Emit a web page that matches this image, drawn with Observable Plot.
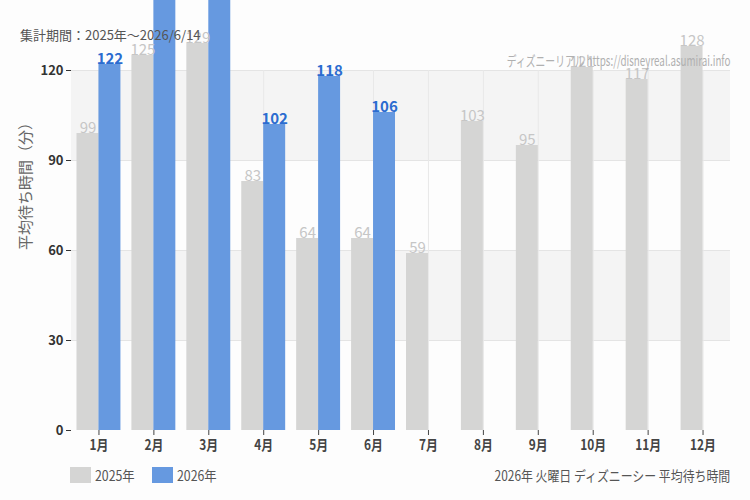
<!DOCTYPE html>
<html><head><meta charset="utf-8">
<script src="https://cdn.jsdelivr.net/npm/d3@7"></script>
<script src="https://cdn.jsdelivr.net/npm/@observablehq/plot@0.6"></script>
<style>
body{margin:0;background:#fdfdfd;}
#wrap{position:relative;width:750px;height:500px;font-family:"Noto Sans CJK JP","Noto Sans",sans-serif;overflow:hidden;}
#wrap svg{position:absolute;left:0;top:0;background:transparent;}
.ov{position:absolute;white-space:nowrap;line-height:16px;}
.sw{position:absolute;width:21px;height:16px;}
</style></head><body><div id="wrap"></div>
<script>
const months = ["1月","2月","3月","4月","5月","6月","7月","8月","9月","10月","11月","12月"];
const values2025 = [99,125,129,83,64,64,59,103,95,121,117,128];
const values2026 = [122,150,155,102,118,106];
const years = ["2025年","2026年"];
const yTicks = [0,30,60,90,120];
const bandRanges = [[30,60],[90,120]];
const colors = ["#d5d5d4","#6699e0"];
const labelColors = ["#c6c6c6","#2b6cd0"];
const titleText = "集計期間：2025年～2026/6/14";
const watermark = "ディズニーリアル https://disneyreal.asumirai.info";
const footerText = "2026年 火曜日 ディズニーシー 平均待ち時間";
const yLabel = "平均待ち時間（分）";

const W = 750, H = 500, mL = 71, mR = 20, mT = 70, mB = 70;
const pIn = 0.2, pOut = 0.1;
const step = (W - mL - mR) / (months.length - pIn + 2 * pOut);
const half = step * (1 - pIn) / 2;

const d2025 = months.map((m, i) => ({month: m, value: values2025[i]}));
const d2026 = values2026.map((v, i) => ({month: months[i], value: v}));

const chart = Plot.plot({
  width: W, height: H,
  marginLeft: mL, marginRight: mR, marginTop: mT, marginBottom: mB,
  style: {fontFamily: "Noto Sans CJK JP, Noto Sans, sans-serif", background: "transparent", overflow: "hidden"},
  x: {domain: months, paddingInner: pIn, paddingOuter: pOut, round: false, line: true, label: null},
  y: {domain: [0, 120], line: true, label: null},
  marks: [
    Plot.rectY(bandRanges, {y1: d => d[0], y2: d => d[1], fill: "#f4f4f4"}),
    Plot.gridY({ticks: yTicks.slice(1), stroke: "#e4e4e4", strokeOpacity: 1}),
    Plot.gridX({stroke: "#e8e8e8", strokeOpacity: 1}),
    Plot.barY(d2025, {x: "month", y: "value", fill: colors[0], insetRight: half}),
    Plot.barY(d2026, {x: "month", y: "value", fill: colors[1], insetLeft: half}),
    Plot.text(d2025, {ariaLabel: "vlabel", x: "month", y: "value", text: d => String(d.value), dx: -half / 2, dy: -1, lineAnchor: "bottom", fill: labelColors[0], fontSize: 15}),
    Plot.text(d2026, {ariaLabel: "vlabel", x: "month", y: "value", text: d => String(d.value), dx: half / 2, dy: -1, lineAnchor: "bottom", fill: labelColors[1], fontSize: 15, fontWeight: "bold"}),
    Plot.axisY({ticks: yTicks, tickSize: 5, tickPadding: 3, label: null, fontSize: 13, color: "#333", fontWeight: "bold"}),
    Plot.axisX({tickSize: 5, tickPadding: 5, label: null, fontSize: 14, color: "#444", fontWeight: "bold"}),
    Plot.text([yLabel], {frameAnchor: "left", rotate: -90, dx: -45, dy: -68, textAnchor: "middle", lineAnchor: "middle", fontSize: 15, fill: "#666"})
  ]
});
const wrap = document.getElementById("wrap");
wrap.appendChild(chart);

// condense the value labels and month labels (narrow font look)
function condense(sel, k) {
  chart.querySelectorAll(sel).forEach(t => {
    const tr = t.getAttribute("transform") || "";
    t.setAttribute("transform", tr + ` scale(${k},1)`);
  });
}
condense('g[aria-label="vlabel"] text', 0.68);
condense('g[aria-label="x-axis tick label"] text', 0.85);

function ov(html, css, k, origin) {
  const d = document.createElement("div");
  d.className = "ov";
  d.innerHTML = html;
  Object.assign(d.style, css, {transform: `scaleX(${k})`, transformOrigin: origin || "left center"});
  wrap.appendChild(d);
  return d;
}
ov(titleText, {left: "20px", top: "27px", fontSize: "13px", color: "#555"}, 1);
ov(watermark, {right: "20px", top: "52px", fontSize: "14px", color: "#b0b0b0"}, 0.7, "right center");
ov(footerText, {right: "20px", top: "467px", fontSize: "14px", color: "#555"}, 0.85, "right center");
// legend
const leg = [70, 152];
years.forEach((y, i) => {
  const s = document.createElement("div");
  s.className = "sw";
  Object.assign(s.style, {left: leg[i] + "px", top: "467px", background: colors[i]});
  wrap.appendChild(s);
  ov(y, {left: (leg[i] + 25) + "px", top: "467px", fontSize: "14px", color: "#555"}, 0.88);
});
</script></body></html>
